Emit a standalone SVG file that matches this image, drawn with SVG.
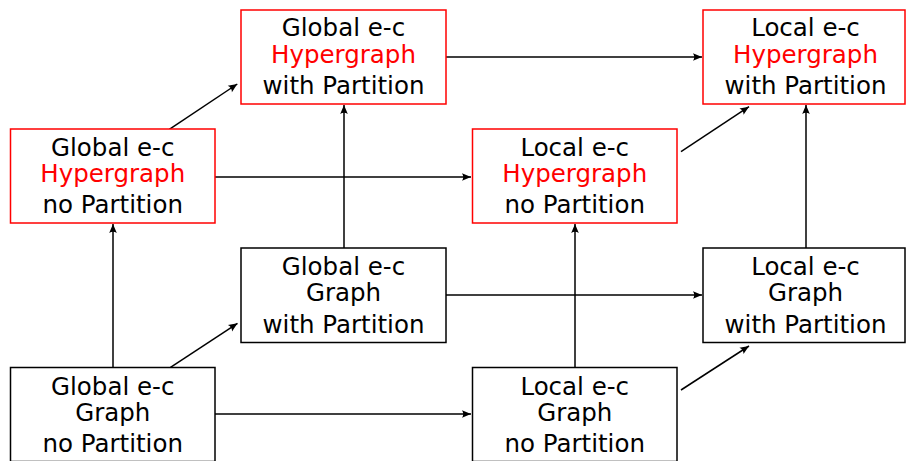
<svg xmlns="http://www.w3.org/2000/svg" width="906" height="461" viewBox="0 0 906 461">
  <style>
    .box { fill: #ffffff; stroke-width: 1.5; }
    .hyper { stroke: #ff0000; }
    .plain { stroke: #000000; }
    text { font-family: "DejaVu Sans", "Liberation Sans", sans-serif; font-size: 24.5px; fill: #000000; text-anchor: middle; }
    text .red { fill: #ff0000; }
    .edge { stroke: #000000; stroke-width: 1.5; fill: none; marker-end: url(#arrow); }
  </style>
  <defs>
    <marker id="arrow" markerUnits="userSpaceOnUse" markerWidth="12" markerHeight="10" viewBox="-10 -5 12 10" refX="0" refY="0" orient="auto">
      <path d="M0,0 L-9,-3.8 Q-6.5,0 -9,3.8 Z" fill="#000000"/>
    </marker>
  </defs>

  <rect width="906" height="461" fill="#ffffff"/>

  <!-- connectors -->
  <g id="connectors">
    <line class="edge" x1="113" y1="367.5" x2="113" y2="224"/>
    <line class="edge" x1="170.5" y1="367.3" x2="237.5" y2="323.3"/>
    <line class="edge" x1="215" y1="414" x2="471" y2="414"/>
    <line class="edge" x1="169.3" y1="129.3" x2="237.3" y2="84"/>
    <line class="edge" x1="215" y1="177" x2="471" y2="177"/>
    <line class="edge" x1="344" y1="248" x2="344" y2="105"/>
    <line class="edge" x1="446" y1="295" x2="702" y2="295"/>
    <line class="edge" x1="446" y1="57" x2="702" y2="57"/>
    <line class="edge" x1="681" y1="151.7" x2="749" y2="106.7"/>
    <line class="edge" x1="575" y1="367.5" x2="575" y2="224"/>
    <line class="edge" x1="681" y1="390" x2="749" y2="346"/>
    <line class="edge" x1="806" y1="248" x2="806" y2="105"/>
  </g>

  <!-- nodes -->
  <g id="global-hyper-nopart">
    <rect class="box hyper" x="10.5" y="129" width="204.5" height="94"/>
    <text x="112.75" y="155.5">Global e-c</text>
    <text x="112.75" y="182"><tspan class="red">Hypergraph</tspan></text>
    <text x="112.75" y="213">no Partition</text>
  </g>

  <g id="global-hyper-part">
    <rect class="box hyper" x="241" y="10" width="205" height="94"/>
    <text x="343.5" y="36">Global e-c</text>
    <text x="343.5" y="63"><tspan class="red">Hypergraph</tspan></text>
    <text x="343.5" y="94">with Partition</text>
  </g>

  <g id="local-hyper-nopart">
    <rect class="box hyper" x="472.5" y="129" width="204.5" height="94"/>
    <text x="574.75" y="155.5">Local e-c</text>
    <text x="574.75" y="182"><tspan class="red">Hypergraph</tspan></text>
    <text x="574.75" y="213">no Partition</text>
  </g>

  <g id="local-hyper-part">
    <rect class="box hyper" x="703" y="10" width="202" height="94"/>
    <text x="805.5" y="36">Local e-c</text>
    <text x="805.5" y="63"><tspan class="red">Hypergraph</tspan></text>
    <text x="805.5" y="94">with Partition</text>
  </g>

  <g id="global-graph-nopart">
    <rect class="box plain" x="10.5" y="367.5" width="204.5" height="94"/>
    <text x="112.75" y="394.5">Global e-c</text>
    <text x="112.75" y="420.5">Graph</text>
    <text x="112.75" y="451.5">no Partition</text>
  </g>

  <g id="global-graph-part">
    <rect class="box plain" x="241" y="248" width="205" height="94.5"/>
    <text x="343.5" y="275">Global e-c</text>
    <text x="343.5" y="301">Graph</text>
    <text x="343.5" y="333">with Partition</text>
  </g>

  <g id="local-graph-nopart">
    <rect class="box plain" x="472.5" y="367.5" width="204.5" height="94"/>
    <text x="574.75" y="394.5">Local e-c</text>
    <text x="574.75" y="420.5">Graph</text>
    <text x="574.75" y="451.5">no Partition</text>
  </g>

  <g id="local-graph-part">
    <rect class="box plain" x="703" y="248" width="202" height="94.5"/>
    <text x="805.5" y="275">Local e-c</text>
    <text x="805.5" y="301">Graph</text>
    <text x="805.5" y="333">with Partition</text>
  </g>
</svg>
